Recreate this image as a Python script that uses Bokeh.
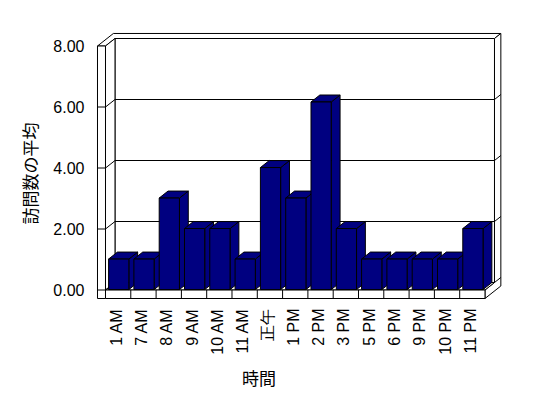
import math
from bokeh.plotting import figure
from bokeh.models import Range1d
from bokeh.core.properties import value
from bokeh.embed import file_html
from bokeh.resources import INLINE

# ---- data ----
categories = ["1 AM", "7 AM", "8 AM", "9 AM", "10 AM", "11 AM", "正午",
              "1 PM", "2 PM", "3 PM", "5 PM", "6 PM", "9 PM", "10 PM", "11 PM"]
visits = [1, 1, 3, 2, 2, 1, 4, 3, 6.15, 2, 1, 1, 1, 1, 2]
y_ticks = [0, 2, 4, 6, 8]
y_tick_labels = ["0.00", "2.00", "4.00", "6.00", "8.00"]
y_title = "訪問数の平均"
x_title = "時間"

# ---- 3D geometry (data units) ----
DX, DY = 0.3755, 0.246     # depth vector (front -> back wall)
TB = 0.67                  # back wall thickness (fraction of depth)
FT = 0.279                 # floor thickness
TW = 0.316                 # left wall thickness
X0, X1 = -0.5, len(categories) - 0.5
YMAX = y_ticks[-1]
BW = 0.8
D0, D1 = 0.06, 0.99
NAVY = "#000080"


def P(x, y, d):
    return (x + d * DX, y + d * DY)


def poly(pts):
    return [q[0] for q in pts], [q[1] for q in pts]


p = figure(width=540, height=390,
           x_range=Range1d(-4.650, 16.694), y_range=Range1d(-3.295, 9.492),
           output_backend="svg", toolbar_location=None,
           x_axis_location=None, y_axis_location=None,
           min_border=0)
p.xgrid.visible = False
p.ygrid.visible = False
p.outline_line_color = None
p.background_fill_color = "white"
p.border_fill_color = "white"

wall = dict(fill_color="white", line_color="black", line_width=1)

# back wall inner face
xs, ys = poly([P(X0, 0, 1), P(X1, 0, 1), P(X1, YMAX, 1), P(X0, YMAX, 1)])
p.patch(xs, ys, **wall)
gx, gy = [], []
for v in y_ticks[1:-1]:
    a, b = P(X0, v, 1), P(X1, v, 1)
    gx.append([a[0], b[0]]); gy.append([a[1], b[1]])
p.multi_line(gx, gy, line_color="black", line_width=1)

# top of walls (L-shape)
xs, ys = poly([P(X0 - TW, YMAX, 0), P(X0, YMAX, 0), P(X0, YMAX, 1), P(X1, YMAX, 1),
               P(X1, YMAX, 1 + TB), P(X0 - TW, YMAX, 1 + TB)])
p.patch(xs, ys, **wall)

# right side face of back wall + floor
xs, ys = poly([P(X1, -FT, 0), P(X1, 0, 0), P(X1, 0, 1), P(X1, YMAX, 1),
               P(X1, YMAX, 1 + TB), P(X1, -FT, 1 + TB)])
p.patch(xs, ys, **wall)
sx, sy = [], []
for v in y_ticks[:-1]:
    a, b = P(X1, v, 1), P(X1, v, 1 + TB)
    sx.append([a[0], b[0]]); sy.append([a[1], b[1]])
p.multi_line(sx, sy, line_color="black", line_width=1)

# left wall inner face
xs, ys = poly([P(X0, 0, 0), P(X0, YMAX, 0), P(X0, YMAX, 1), P(X0, 0, 1)])
p.patch(xs, ys, **wall)
lx, ly = [], []
for v in y_ticks[1:-1]:
    a, b = P(X0, v, 0), P(X0, v, 1)
    lx.append([a[0], b[0]]); ly.append([a[1], b[1]])
p.multi_line(lx, ly, line_color="black", line_width=1)

# floor top
xs, ys = poly([P(X0, 0, 0), P(X1, 0, 0), P(X1, 0, 1), P(X0, 0, 1)])
p.patch(xs, ys, **wall)
# floor front face
p.quad(left=[X0], right=[X1], bottom=[-FT], top=[0], **wall)
dx_, dy_ = [], []
for i in range(len(categories) - 1):
    dx_.append([i + 0.5, i + 0.5]); dy_.append([-FT, 0])
p.multi_line(dx_, dy_, line_color="black", line_width=1)

# left wall front face
p.quad(left=[X0 - TW], right=[X0], bottom=[-FT], top=[YMAX], **wall)
tx, ty = [], []
for v in y_ticks[:-1]:
    tx.append([X0 - TW, X0]); ty.append([v, v])
p.multi_line(tx, ty, line_color="black", line_width=1)

# bars
side_xs, side_ys, top_xs, top_ys = [], [], [], []
fl, fr, fb, ft = [], [], [], []
for i, v in enumerate(visits):
    xl, xr = i - BW / 2, i + BW / 2
    a, b = poly([P(xr, 0, D0), P(xr, v, D0), P(xr, v, D1), P(xr, 0, D1)])
    side_xs.append(a); side_ys.append(b)
    a, b = poly([P(xl, v, D0), P(xr, v, D0), P(xr, v, D1), P(xl, v, D1)])
    top_xs.append(a); top_ys.append(b)
    fl.append(xl + D0 * DX); fr.append(xr + D0 * DX)
    fb.append(D0 * DY); ft.append(v + D0 * DY)
p.patches(side_xs, side_ys, fill_color=NAVY, line_color="black", line_width=1)
p.patches(top_xs, top_ys, fill_color=NAVY, line_color="black", line_width=1)
p.quad(left=fl, right=fr, bottom=fb, top=ft, fill_color=NAVY, line_color="black", line_width=1)

# tick labels (value axis)
p.text(x=[X0 - 0.83] * len(y_ticks), y=y_ticks, text=y_tick_labels,
       text_align="right", text_baseline="middle",
       text_font=value("Liberation Sans"), text_font_size=value("16px"),
       text_color="black")
# category labels
p.text(x=[i - 0.08 for i in range(len(categories))], y=[-0.607] * len(categories),
       text=categories, angle=math.pi / 2,
       text_align="right", text_baseline="middle",
       text_font=value("Liberation Sans"), text_font_size=value("16px"),
       text_color="black")
# axis titles
p.text(x=[-3.504], y=[3.82], text=[y_title], angle=math.pi / 2,
       text_align="center", text_baseline="middle",
       text_font=value("Noto Sans CJK JP"), text_font_size=value("17px"),
       text_color="black")
p.text(x=[5.567], y=[-2.869], text=[x_title],
       text_align="center", text_baseline="middle",
       text_font=value("Noto Sans CJK JP"), text_font_size=value("17px"),
       text_color="black")

open("out.html", "w").write(file_html(p, INLINE))
